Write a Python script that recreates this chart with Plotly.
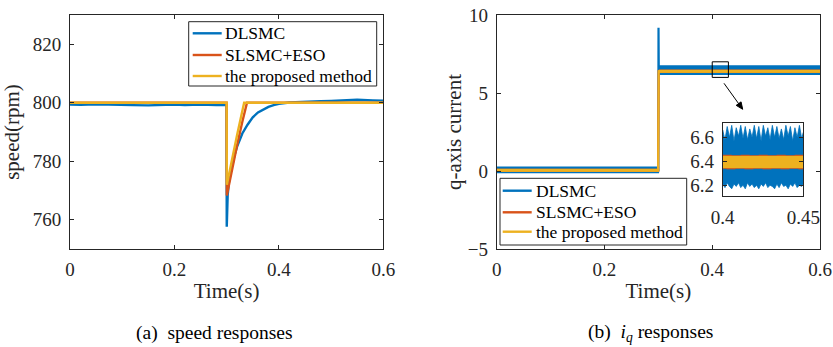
import math
import plotly.graph_objects as go

# ---------------- data ----------------
series_names = ["DLSMC", "SLSMC+ESO", "the proposed method"]
colors = ["#0072BD", "#D95319", "#EDB120"]

# (a) speed responses
speed_t_dl = [0, 0.02, 0.05, 0.08, 0.1, 0.12, 0.15, 0.18, 0.2, 0.22, 0.25, 0.28, 0.2998,
              0.3002, 0.3006, 0.302, 0.305, 0.31, 0.315, 0.32, 0.33, 0.34, 0.35, 0.36,
              0.37, 0.38, 0.39, 0.40, 0.42, 0.45, 0.48, 0.5, 0.52, 0.55, 0.58, 0.6]
speed_dl = [799.4, 799.3, 799.5, 799.3, 799.4, 799.2, 799.1, 799.2, 799.4, 799.2, 799.4, 799.2, 799.2,
            757.6, 766.5, 768.5, 774.0, 778.5, 782.0, 785.0, 789.5, 792.5, 795.0, 796.7,
            797.8, 798.6, 799.2, 799.6, 800.1, 800.4, 800.5, 800.6, 800.7, 801.0, 800.8, 800.7]
speed_t_sl = [0, 0.2999, 0.3003, 0.31, 0.32, 0.33, 0.339, 0.6]
speed_sl = [800, 800, 768.3, 777.0, 785.5, 793.5, 800, 800]
speed_t_pm = [0, 0.3, 0.3004, 0.31, 0.32, 0.3335, 0.6]
speed_pm = [800, 800, 772.0, 780.5, 789.0, 800, 800]

# (b) iq responses: centre lines
iq_t_dl = [0, 0.2999, 0.3003, 0.3008, 0.6]
iq_dl = [0.06, 0.06, 9.19, 6.45, 6.45]
iq_t_sl = [0, 0.2996, 0.3006, 0.6]
iq_sl = [0.04, 0.04, 6.39, 6.39]
iq_t_pm = [0, 0.2996, 0.3006, 0.6]
iq_pm = [0.04, 0.04, 6.39, 6.39]

# (b) ripple envelopes (lower, upper) before and after the load step
band_t_pre = [0, 0.2999]
band_t_post = [0.3008, 0.6]
dl_lo_pre, dl_hi_pre = [-0.1, -0.1], [0.24, 0.24]
dl_lo_post, dl_hi_post = [6.2, 6.2], [6.72, 6.72]
sl_lo_pre, sl_hi_pre = [-0.01, -0.01], [0.10, 0.10]
sl_lo_post, sl_hi_post = [6.335, 6.335], [6.452, 6.452]
pm_lo_pre, pm_hi_pre = [0.0, 0.0], [0.09, 0.09]
pm_lo_post, pm_hi_post = [6.342, 6.342], [6.445, 6.445]

# zoomed inset (0.40 - 0.45 s)
inset_t = [0.4000, 0.4014, 0.4028, 0.4042, 0.4056, 0.4070, 0.4084, 0.4098, 0.4112, 0.4126,
           0.4140, 0.4154, 0.4168, 0.4182, 0.4196, 0.4210, 0.4224, 0.4238, 0.4252, 0.4266,
           0.4280, 0.4294, 0.4308, 0.4322, 0.4336, 0.4350, 0.4364, 0.4378, 0.4392, 0.4406,
           0.4420, 0.4434, 0.4448, 0.4462, 0.4476, 0.4490, 0.4500]
inset_dl_top = [6.66, 6.58, 6.69, 6.60, 6.70, 6.57, 6.68, 6.61, 6.70, 6.59, 6.69, 6.58, 6.67,
                6.60, 6.70, 6.59, 6.69, 6.57, 6.70, 6.61, 6.68, 6.58, 6.70, 6.60, 6.69, 6.59,
                6.67, 6.58, 6.70, 6.61, 6.69, 6.57, 6.68, 6.60, 6.70, 6.59, 6.64]
inset_dl_bot = [6.21, 6.18, 6.22, 6.19, 6.17, 6.21, 6.19, 6.22, 6.18, 6.20, 6.17, 6.22, 6.19,
                6.21, 6.18, 6.20, 6.17, 6.21, 6.19, 6.22, 6.18, 6.20, 6.19, 6.17, 6.21, 6.18,
                6.22, 6.19, 6.20, 6.17, 6.21, 6.19, 6.22, 6.18, 6.20, 6.19, 6.21]
inset_t_flat = [0.4, 0.45]
inset_sl_lo, inset_sl_hi = [6.337, 6.337], [6.450, 6.450]
inset_pm_lo, inset_pm_hi = [6.344, 6.344], [6.443, 6.443]

speed_ticks = [760, 780, 800, 820]
iq_ticks = [-5, 0, 5, 10]
time_ticks = [0, 0.2, 0.4, 0.6]
time_ticklabels = ["0", "0.2", "0.4", "0.6"]
inset_yticks = [6.2, 6.4, 6.6]
inset_xticks = [0.4, 0.45]
inset_xticklabels = ["0.4", "0.45"]

# ---------------- figure ----------------
FONT = "Liberation Serif"
AX = "#262626"
W, H = 833, 347

fig = go.Figure()


def band(tx, lo, hi, color, xa, ya, dash=None, lw=1.0):
    xs = list(tx) + list(tx)[::-1] + [tx[0]]
    ys = list(hi) + list(lo)[::-1] + [hi[0]]
    return go.Scatter(x=xs, y=ys, mode="lines", fill="toself", fillcolor=color,
                      line=dict(color=color, width=lw, dash=dash), xaxis=xa, yaxis=ya,
                      showlegend=False, hoverinfo="skip")


# (a)
for t, v, name, c in [(speed_t_dl, speed_dl, series_names[0], colors[0]),
                      (speed_t_sl, speed_sl, series_names[1], colors[1]),
                      (speed_t_pm, speed_pm, series_names[2], colors[2])]:
    fig.add_trace(go.Scatter(x=t, y=v, mode="lines", name=name, line=dict(color=c, width=2.4),
                             xaxis="x", yaxis="y", showlegend=False))

# (b) main
bands = [
    (dl_lo_pre, dl_hi_pre, dl_lo_post, dl_hi_post, iq_t_dl, iq_dl),
    (sl_lo_pre, sl_hi_pre, sl_lo_post, sl_hi_post, iq_t_sl, iq_sl),
    (pm_lo_pre, pm_hi_pre, pm_lo_post, pm_hi_post, iq_t_pm, iq_pm),
]
for i, (lo1, hi1, lo2, hi2, t, v) in enumerate(bands):
    fig.add_trace(band(band_t_pre, lo1, hi1, colors[i], "x2", "y2", lw=1.6))
    fig.add_trace(band(band_t_post, lo2, hi2, colors[i], "x2", "y2", lw=1.6))
    fig.add_trace(go.Scatter(x=t, y=v, mode="lines", name=series_names[i],
                             line=dict(color=colors[i], width=2.2),
                             xaxis="x2", yaxis="y2", showlegend=False))

# (b) inset
fig.add_trace(band(inset_t, inset_dl_bot, inset_dl_top, colors[0], "x3", "y3", lw=0.8))
fig.add_trace(band(inset_t_flat, inset_sl_lo, inset_sl_hi, colors[1], "x3", "y3", dash="dash", lw=1.0))
fig.add_trace(band(inset_t_flat, inset_pm_lo, inset_pm_hi, colors[2], "x3", "y3", lw=0.3))

tickfont = dict(family=FONT, size=19, color=AX)
titlefont = dict(family=FONT, size=21, color=AX)
common = dict(showline=True, mirror="ticks", linecolor=AX, linewidth=1, ticks="inside",
              ticklen=4, tickcolor=AX, tickwidth=1, showgrid=False, zeroline=False,
              tickfont=tickfont, automargin=False)

xl = [70 / W, 383.3 / W]
xr = [496.7 / W, 820 / W]
yd = [1 - 249 / H, 1 - 15 / H]
xi = [722.7 / W, 803.3 / W]
yi = [1 - 196 / H, 1 - 123.3 / H]

fig.update_layout(
    width=W, height=H, margin=dict(l=0, r=0, t=0, b=0, autoexpand=False),
    paper_bgcolor="white", plot_bgcolor="white", showlegend=False,
    xaxis=dict(domain=xl, range=[0, 0.6], tickvals=time_ticks, ticktext=time_ticklabels,
               title=dict(text="Time(s)", font=titlefont, standoff=4), anchor="y",
               ticklabelstandoff=3, **common),
    yaxis=dict(domain=yd, range=[750, 830], tickvals=speed_ticks,
               title=dict(text="speed(rpm)", font=titlefont, standoff=12), anchor="x",
               ticklabelstandoff=4, **common),
    xaxis2=dict(domain=xr, range=[0, 0.6], tickvals=time_ticks, ticktext=time_ticklabels,
                title=dict(text="Time(s)", font=titlefont, standoff=4), anchor="y2",
                ticklabelstandoff=3, **common),
    yaxis2=dict(domain=yd, range=[-5, 10], tickvals=iq_ticks,
                title=dict(text="q-axis current", font=titlefont, standoff=0), anchor="x2",
                ticklabelstandoff=4, **common),
    xaxis3=dict(domain=xi, range=[0.4, 0.45], tickvals=inset_xticks, ticktext=inset_xticklabels,
                anchor="y3", ticklabelstandoff=4, **common),
    yaxis3=dict(domain=yi, range=[6.11, 6.717], tickvals=inset_yticks, anchor="x3",
                ticklabelstandoff=4, **common),
)

# zoom box on (b)
fig.add_shape(type="rect", xref="x2", yref="y2", x0=0.4, x1=0.43, y0=6.0, y1=7.0,
              line=dict(color="black", width=1))


# arrow from the zoom box to the inset (pixel geometry -> paper coords)
def P(px, py):
    return px / W, 1 - py / H


tail = (724.0, 83.3)
tip = (742.7, 109.3)
dx, dy = tip[0] - tail[0], tip[1] - tail[1]
L = math.hypot(dx, dy)
ux, uy = dx / L, dy / L
base = (tip[0] - 7 * ux, tip[1] - 7 * uy)
c1 = (base[0] - 3 * uy, base[1] + 3 * ux)
c2 = (base[0] + 3 * uy, base[1] - 3 * ux)
ax0, ay0 = P(*tail)
ax1, ay1 = P(*base)
fig.add_shape(type="line", xref="paper", yref="paper", x0=ax0, y0=ay0, x1=ax1, y1=ay1,
              line=dict(color="black", width=1))
pts = [P(*tip), P(*c1), P(*c2)]
path = "M {} {} L {} {} L {} {} Z".format(pts[0][0], pts[0][1], pts[1][0], pts[1][1],
                                          pts[2][0], pts[2][1])
fig.add_shape(type="path", xref="paper", yref="paper", path=path, fillcolor="black",
              line=dict(color="black", width=1))


# legends (drawn boxes, sample lines and labels)
def legend_box(x0, x1, y0, y1, rows, lx0, lx1, tx):
    fig.add_shape(type="rect", xref="paper", yref="paper", x0=x0 / W, x1=x1 / W,
                  y0=1 - y1 / H, y1=1 - y0 / H, line=dict(color=AX, width=1),
                  fillcolor="white", layer="above")
    for i, yc in enumerate(rows):
        fig.add_shape(type="line", xref="paper", yref="paper", x0=lx0 / W, x1=lx1 / W,
                      y0=1 - yc / H, y1=1 - yc / H, line=dict(color=colors[i], width=2.4),
                      layer="above")
        fig.add_annotation(xref="paper", yref="paper", x=tx / W, y=1 - yc / H,
                           xanchor="left", yanchor="middle", showarrow=False,
                           text=series_names[i],
                           font=dict(family=FONT, size=17.5, color="black"))


legend_box(188.7, 376.7, 21.7, 86, [33.3, 55.0, 76.0], 192.7, 221.7, 222.5)
legend_box(500, 686.7, 178.3, 245, [190.7, 212.3, 231.7], 502.7, 531.7, 533.5)

# sub-captions
fig.add_annotation(xref="paper", yref="paper", x=214 / W, y=1 - 333 / H, showarrow=False,
                   xanchor="center", yanchor="middle",
                   text="(a)  speed responses", font=dict(family=FONT, size=19.5, color="black"))
fig.add_annotation(xref="paper", yref="paper", x=650 / W, y=1 - 333 / H, showarrow=False,
                   xanchor="center", yanchor="middle",
                   text="(b)  <i>i<sub>q</sub></i> responses",
                   font=dict(family=FONT, size=19.5, color="black"))

fig.write_html("out.html")
